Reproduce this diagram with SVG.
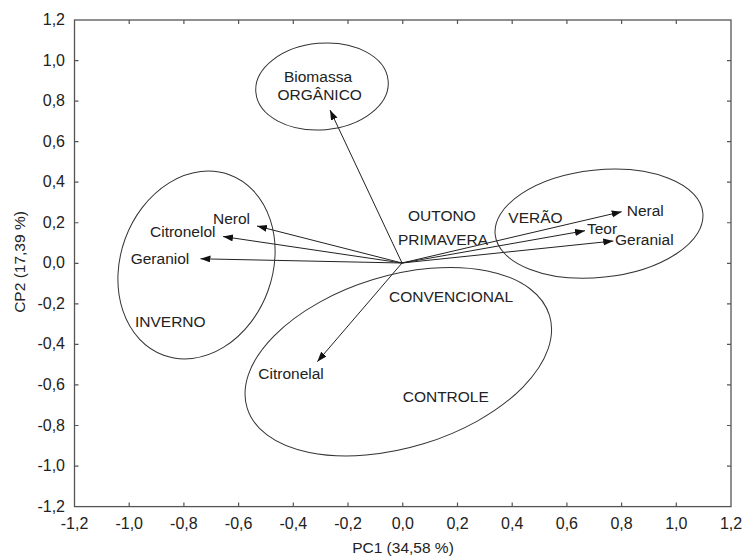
<svg xmlns="http://www.w3.org/2000/svg" width="743" height="560" viewBox="0 0 743 560">
<defs>
<marker id="ah" markerUnits="userSpaceOnUse" markerWidth="11" markerHeight="8" refX="10" refY="3.5" orient="auto">
<path d="M0,0 L10,3.5 L0,7 z" fill="#111"/>
</marker>
<style>
text{font-family:"Liberation Sans",Arial,sans-serif;fill:#222;}
.tk{font-size:16px;}
.lb{font-size:15.5px;}
.frame{fill:none;stroke:#555;stroke-width:1.3;}
.tick{stroke:#555;stroke-width:1.2;}
.ell{fill:none;stroke:#333;stroke-width:1;}
.vec{stroke:#222;stroke-width:1;fill:none;marker-end:url(#ah);}
</style>
</defs>
<rect width="743" height="560" fill="#fff"/>
<g id="axes">
<rect class="frame" x="74.5" y="20" width="656.5" height="486.6"/>
<path class="tick" d="M129.2,506.6v-4M183.9,506.6v-4M238.6,506.6v-4M293.3,506.6v-4M348,506.6v-4M402.75,506.6v-4M457.5,506.6v-4M512.2,506.6v-4M566.9,506.6v-4M621.6,506.6v-4M676.3,506.6v-4
M129.2,20v4M183.9,20v4M238.6,20v4M293.3,20v4M348,20v4M402.75,20v4M457.5,20v4M512.2,20v4M566.9,20v4M621.6,20v4M676.3,20v4
M74.5,60.55h4M74.5,101.1h4M74.5,141.65h4M74.5,182.2h4M74.5,222.75h4M74.5,263.3h4M74.5,303.85h4M74.5,344.4h4M74.5,384.95h4M74.5,425.5h4M74.5,466.05h4
M731,60.55h-4M731,101.1h-4M731,141.65h-4M731,182.2h-4M731,222.75h-4M731,263.3h-4M731,303.85h-4M731,344.4h-4M731,384.95h-4M731,425.5h-4M731,466.05h-4"/>
<g class="tk" text-anchor="end">
<text x="65" y="25">1,2</text>
<text x="65" y="65.5">1,0</text>
<text x="65" y="106">0,8</text>
<text x="65" y="146.6">0,6</text>
<text x="65" y="187.2">0,4</text>
<text x="65" y="227.7">0,2</text>
<text x="65" y="268.3">0,0</text>
<text x="65" y="308.8">-0,2</text>
<text x="65" y="349.4">-0,4</text>
<text x="65" y="389.9">-0,6</text>
<text x="65" y="430.5">-0,8</text>
<text x="65" y="471">-1,0</text>
<text x="65" y="511.6">-1,2</text>
</g>
<g class="tk" text-anchor="middle">
<text x="74.5" y="529">-1,2</text>
<text x="129.2" y="529">-1,0</text>
<text x="183.9" y="529">-0,8</text>
<text x="238.6" y="529">-0,6</text>
<text x="293.3" y="529">-0,4</text>
<text x="348" y="529">-0,2</text>
<text x="402.75" y="529">0,0</text>
<text x="457.5" y="529">0,2</text>
<text x="512.2" y="529">0,4</text>
<text x="566.9" y="529">0,6</text>
<text x="621.6" y="529">0,8</text>
<text x="676.3" y="529">1,0</text>
<text x="731" y="529">1,2</text>
</g>
<text class="lb" x="403" y="553" text-anchor="middle">PC1 (34,58 %)</text>
<text class="lb" transform="translate(25,262) rotate(-90)" text-anchor="middle">CP2 (17,39 %)</text>
</g>
<g id="connectors">
<line class="vec" x1="402" y1="263" x2="330" y2="110"/>
<line class="vec" x1="402" y1="263" x2="257" y2="226"/>
<line class="vec" x1="402" y1="263" x2="223" y2="236.5"/>
<line class="vec" x1="402" y1="263" x2="200.5" y2="258.8"/>
<line class="vec" x1="402" y1="263" x2="621.7" y2="211.7"/>
<line class="vec" x1="402" y1="263" x2="585" y2="230.7"/>
<line class="vec" x1="402" y1="263" x2="613.3" y2="241"/>
<line class="vec" x1="402" y1="263" x2="317.3" y2="361.7"/>
</g>
<g id="biomassa">
<ellipse class="ell" cx="322" cy="86.5" rx="66.4" ry="43.3" transform="rotate(-5 322 86.5)"/>
<text class="lb" x="318" y="81.7" text-anchor="middle">Biomassa</text>
<text class="lb" x="319.7" y="100" text-anchor="middle">ORGÂNICO</text>
</g>
<g id="inverno">
<ellipse class="ell" cx="196.5" cy="265" rx="76" ry="96" transform="rotate(20 196.5 265)"/>
<text class="lb" x="213" y="224">Nerol</text>
<text class="lb" x="150" y="236.5">Citronelol</text>
<text class="lb" x="130.7" y="264">Geraniol</text>
<text class="lb" x="135" y="327">INVERNO</text>
</g>
<g id="verao">
<ellipse class="ell" cx="599" cy="223.7" rx="104.4" ry="53.7" transform="rotate(-6 599 223.7)"/>
<text class="lb" x="508.3" y="222.7">VERÃO</text>
<text class="lb" x="626.7" y="216">Neral</text>
<text class="lb" x="587" y="234">Teor</text>
<text class="lb" x="615" y="244.5">Geranial</text>
</g>
<g id="center-labels">
<text class="lb" x="408" y="221">OUTONO</text>
<text class="lb" x="398" y="245">PRIMAVERA</text>
</g>
<g id="convencional">
<ellipse class="ell" cx="398.3" cy="361.7" rx="158.1" ry="85.9" transform="rotate(-17 398.3 361.7)"/>
<text class="lb" x="389" y="301.7">CONVENCIONAL</text>
<text class="lb" x="258.3" y="379.3">Citronelal</text>
<text class="lb" x="402.7" y="402.3">CONTROLE</text>
</g>
</svg>
